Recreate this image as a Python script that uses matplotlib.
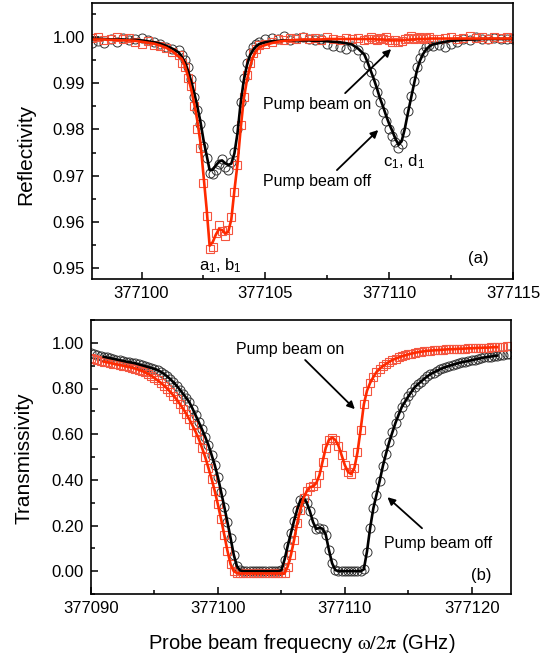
import numpy as np
import matplotlib
matplotlib.use("Agg")
import matplotlib.pyplot as plt
from matplotlib.ticker import MultipleLocator, FormatStrFormatter

plt.rcParams['font.family'] = ['Liberation Sans', 'DejaVu Sans']
plt.rcParams['mathtext.fontset'] = 'custom'
plt.rcParams['mathtext.rm'] = 'Liberation Sans'
plt.rcParams['mathtext.it'] = 'Liberation Sans'

F0 = 377000

# ---- panel (a): reflectivity, probe frequency offsets from 377000 GHz ----
freq_a = [98.0, 98.25, 98.5, 98.75, 99.0, 99.25, 99.5, 99.75, 100.0, 100.25, 100.5, 100.75, 101.0, 101.25,
          101.5, 101.625, 101.75, 101.875, 102.0, 102.125, 102.25, 102.375, 102.5, 102.625, 102.75, 102.875,
          103.0, 103.125, 103.25, 103.375, 103.5, 103.625, 103.75, 103.875, 104.0, 104.125, 104.25, 104.375,
          104.5, 104.625, 104.75,
          105.0, 105.25, 105.5, 105.75, 106.0, 106.25, 106.5, 106.75, 107.0, 107.25, 107.5, 107.75,
          108.0, 108.25, 108.5, 108.75,
          109.0, 109.125, 109.25, 109.375, 109.5, 109.625, 109.75, 109.875, 110.0, 110.125, 110.25, 110.375,
          110.5, 110.625, 110.75, 110.875, 111.0, 111.125, 111.25, 111.375, 111.5, 111.625, 111.75,
          112.0, 112.25, 112.5, 112.75, 113.0, 113.25, 113.5, 113.75, 114.0, 114.25, 114.5, 114.75, 115.0]

# pump beam off: measured (circles) and fit (black line)
refl_off_data = [0.9988, 0.9992, 0.9987, 0.9995, 0.9990, 0.9998, 0.9993, 0.9996, 0.9999, 0.9994, 0.9990, 0.9986, 0.9978, 0.9975,
                 0.9972, 0.9962, 0.9950, 0.9935, 0.9910, 0.9870, 0.9842, 0.9812, 0.9765, 0.9738, 0.9705, 0.9703,
                 0.9712, 0.9726, 0.9735, 0.9718, 0.9712, 0.9730, 0.9752, 0.9800, 0.9860, 0.9912, 0.9945, 0.9965,
                 0.9978, 0.9986, 0.9990,
                 0.9996, 0.9999, 0.9997, 1.0002, 0.9994, 0.9998, 1.0001, 0.9996, 0.9993, 0.9997, 0.9986, 0.9980,
                 0.9978, 0.9975, 0.9980, 0.9972,
                 0.9958, 0.9940, 0.9925, 0.9900, 0.9882, 0.9860, 0.9838, 0.9818, 0.9800, 0.9785, 0.9772, 0.9760,
                 0.9768, 0.9795, 0.9840, 0.9872, 0.9905, 0.9935, 0.9955, 0.9968, 0.9978, 0.9982, 0.9980,
                 0.9984, 0.9978, 0.9986, 0.9990, 0.9996, 0.9993, 1.0000, 0.9997, 0.9995, 0.9998, 0.9996, 0.9997, 0.9996]
refl_off_fit = [0.9996, 0.9996, 0.9996, 0.9995, 0.9995, 0.9995, 0.9994, 0.9994, 0.9993, 0.9991, 0.9989, 0.9986, 0.9981, 0.9975,
                0.9967, 0.9958, 0.9946, 0.9928, 0.9905, 0.9880, 0.9850, 0.9818, 0.9778, 0.9745, 0.9712, 0.9713,
                0.9722, 0.9730, 0.9733, 0.9727, 0.9723, 0.9726, 0.9748, 0.9792, 0.9856, 0.9905, 0.9938, 0.9960,
                0.9972, 0.9980, 0.9985,
                0.9989, 0.9991, 0.9992, 0.9993, 0.9993, 0.9993, 0.9993, 0.9993, 0.9992, 0.9992, 0.9991, 0.9990,
                0.9989, 0.9987, 0.9984, 0.9975,
                0.9962, 0.9946, 0.9928, 0.9910, 0.9890, 0.9868, 0.9850, 0.9830, 0.9812, 0.9797, 0.9780, 0.9767,
                0.9774, 0.9800, 0.9834, 0.9866, 0.9898, 0.9929, 0.9950, 0.9964, 0.9974, 0.9980, 0.9984,
                0.9987, 0.9990, 0.9992, 0.9993, 0.9994, 0.9995, 0.9995, 0.9996, 0.9996, 0.9996, 0.9996, 0.9996, 0.9996]

# pump beam on: measured (squares) and fit (red line)
refl_on_data = [0.9998, 1.0000, 0.9993, 0.9997, 1.0001, 0.9995, 0.9998, 0.9990, 0.9985, 0.9992, 0.9984, 0.9980, 0.9976, 0.9968,
                0.9962, 0.9945, 0.9935, 0.9912, 0.9895, 0.9850, 0.9800, 0.9760, 0.9685, 0.9612, 0.9540, 0.9545,
                0.9575, 0.9592, 0.9580, 0.9570, 0.9582, 0.9610, 0.9665, 0.9722, 0.9810, 0.9870, 0.9918, 0.9945,
                0.9965, 0.9975, 0.9982,
                0.9985, 0.9990, 0.9996, 0.9993, 0.9998, 0.9995, 1.0001, 0.9996, 0.9999, 0.9994, 1.0000, 0.9996,
                0.9993, 0.9998, 0.9995, 0.9999,
                0.9994, 0.9997, 1.0001, 0.9996, 0.9993, 0.9998, 0.9995, 1.0000, 0.9993, 0.9990, 0.9994, 0.9989,
                0.9992, 0.9996, 0.9998, 1.0002, 0.9996, 0.9999, 1.0000, 0.9995, 0.9998, 1.0001, 0.9997,
                0.9995, 0.9998, 1.0001, 0.9997, 0.9999, 1.0002, 0.9998, 1.0000, 0.9997, 1.0001, 0.9998, 1.0000, 0.9999]
refl_on_fit = [0.9995, 0.9995, 0.9995, 0.9994, 0.9994, 0.9993, 0.9993, 0.9992, 0.9990, 0.9988, 0.9986, 0.9982, 0.9977, 0.9969,
               0.9958, 0.9953, 0.9938, 0.9915, 0.9888, 0.9856, 0.9820, 0.9773, 0.9702, 0.9630, 0.9548, 0.9556,
               0.9572, 0.9584, 0.9582, 0.9575, 0.9578, 0.9605, 0.9668, 0.9725, 0.9800, 0.9865, 0.9905, 0.9935,
               0.9957, 0.9970, 0.9978,
               0.9983, 0.9987, 0.9990, 0.9992, 0.9993, 0.9994, 0.9995, 0.9995, 0.9995, 0.9995, 0.9996, 0.9996,
               0.9996, 0.9996, 0.9996, 0.9996,
               0.9996, 0.9996, 0.9996, 0.9996, 0.9995, 0.9995, 0.9995, 0.9994, 0.9994, 0.9993, 0.9993, 0.9993,
               0.9993, 0.9994, 0.9994, 0.9995, 0.9995, 0.9996, 0.9996, 0.9996, 0.9996, 0.9997, 0.9997,
               0.9997, 0.9997, 0.9997, 0.9997, 0.9997, 0.9997, 0.9997, 0.9997, 0.9997, 0.9997, 0.9997, 0.9997, 0.9997]

# ---- panel (b): transmissivity ----
freq_b = [90.0, 90.25, 90.5, 90.75, 91.0, 91.25, 91.5, 91.75, 92.0, 92.25, 92.5, 92.75,
          93.0, 93.25, 93.5, 93.75, 94.0, 94.25, 94.5, 94.75, 95.0, 95.25, 95.5, 95.75,
          96.0, 96.25, 96.5, 96.75, 97.0, 97.25, 97.5, 97.75, 98.0, 98.25, 98.5, 98.75,
          99.0, 99.25, 99.5, 99.75, 100.0, 100.25, 100.5, 100.75, 101.0, 101.25, 101.5, 101.75,
          102.0, 102.25, 102.5, 102.75, 103.0, 103.25, 103.5, 103.75, 104.0, 104.25, 104.5, 104.75,
          105.0, 105.25, 105.5, 105.75, 106.0, 106.25, 106.5, 106.75, 107.0, 107.25, 107.5, 107.75,
          108.0, 108.25, 108.5, 108.75, 109.0, 109.25, 109.5, 109.75, 110.0, 110.25, 110.5, 110.75,
          111.0, 111.25, 111.5, 111.75, 112.0, 112.25, 112.5, 112.75, 113.0, 113.25, 113.5, 113.75,
          114.0, 114.25, 114.5, 114.75, 115.0, 115.25, 115.5, 115.75, 116.0, 116.25, 116.5, 116.75,
          117.0, 117.25, 117.5, 117.75, 118.0, 118.25, 118.5, 118.75, 119.0, 119.25, 119.5, 119.75,
          120.0, 120.25, 120.5, 120.75, 121.0, 121.25, 121.5, 121.75, 122.0, 122.25, 122.5, 122.75,
          123.0]

trans_off = [0.955, 0.952, 0.948, 0.944, 0.939, 0.936, 0.933, 0.930, 0.927, 0.924, 0.921, 0.918,
             0.915, 0.913, 0.910, 0.906, 0.902, 0.898, 0.894, 0.890, 0.886, 0.881, 0.873, 0.864,
             0.853, 0.841, 0.827, 0.812, 0.795, 0.777, 0.759, 0.740, 0.712, 0.682, 0.652, 0.621,
             0.588, 0.553, 0.510, 0.465, 0.412, 0.348, 0.283, 0.215, 0.145, 0.072, 0.022, 0.003,
             0.0, 0.0, 0.0, 0.0, 0.0, 0.0, 0.0, 0.0, 0.0, 0.0, 0.0, 0.0,
             0.004, 0.050, 0.110, 0.165, 0.220, 0.270, 0.310, 0.322, 0.300, 0.262, 0.215, 0.185,
             0.190, 0.186, 0.160, 0.093, 0.035, 0.005, 0.0, 0.0, 0.0, 0.0, 0.0, 0.0,
             0.0, 0.0, 0.008, 0.086, 0.190, 0.275, 0.335, 0.395, 0.460, 0.515, 0.565, 0.608,
             0.650, 0.686, 0.720, 0.742, 0.765, 0.785, 0.805, 0.818, 0.830, 0.842, 0.853, 0.863,
             0.870, 0.877, 0.884, 0.890, 0.895, 0.900, 0.904, 0.908, 0.912, 0.915, 0.918, 0.921,
             0.924, 0.927, 0.930, 0.933, 0.936, 0.938, 0.940, 0.942, 0.944, 0.946, 0.948, 0.950,
             0.952]

trans_on = [0.935, 0.930, 0.925, 0.922, 0.918, 0.915, 0.912, 0.909, 0.906, 0.903, 0.900, 0.897,
            0.894, 0.891, 0.887, 0.882, 0.877, 0.871, 0.864, 0.856, 0.846, 0.836, 0.825, 0.813,
            0.800, 0.785, 0.769, 0.752, 0.733, 0.712, 0.690, 0.665, 0.638, 0.610, 0.578, 0.540,
            0.500, 0.453, 0.405, 0.352, 0.292, 0.228, 0.160, 0.090, 0.030, 0.000, -0.008, -0.010,
            -0.010, -0.010, -0.010, -0.010, -0.010, -0.010, -0.010, -0.010, -0.010, -0.010, -0.010, -0.010,
            -0.010, -0.010, 0.020, 0.070, 0.135, 0.210, 0.270, 0.320, 0.350, 0.368, 0.372, 0.385,
            0.420, 0.480, 0.540, 0.575, 0.585, 0.575, 0.550, 0.508, 0.465, 0.435, 0.425, 0.450,
            0.520, 0.620, 0.730, 0.790, 0.825, 0.850, 0.872, 0.886, 0.898, 0.908, 0.917, 0.925,
            0.931, 0.936, 0.941, 0.945, 0.949, 0.953, 0.956, 0.959, 0.961, 0.963, 0.965, 0.966,
            0.967, 0.968, 0.969, 0.970, 0.971, 0.972, 0.972, 0.973, 0.974, 0.974, 0.975, 0.976,
            0.976, 0.977, 0.978, 0.978, 0.979, 0.979, 0.980, 0.981, 0.981, 0.982, 0.983, 0.984,
            0.985]

RED = '#ff2a00'
SQ_RED = '#f5553f'

fig = plt.figure(figsize=(5.59, 6.60), dpi=100)
ax1 = fig.add_axes([92 / 559, 1 - 279 / 660, 421 / 559, 276 / 660])
ax2 = fig.add_axes([91 / 559, 1 - 594 / 660, 420 / 559, 274 / 660])

fa = F0 + np.array(freq_a)
fb = F0 + np.array(freq_b)

# panel (a)
ax1.plot(fa, refl_off_data, 'o', ms=6.5, mfc='none', mec='#333333', mew=0.7)
ax1.plot(fa, refl_on_data, 's', ms=5.5, mfc='none', mec=SQ_RED, mew=0.8)
ax1.plot(fa, refl_off_fit, '-', color='k', lw=1.9)
ax1.plot(fa, refl_on_fit, '-', color=RED, lw=1.9)

ax1.set_xlim(377098, 377115)
ax1.set_ylim(0.9476, 1.0074)
ax1.xaxis.set_major_locator(MultipleLocator(5))
ax1.xaxis.set_minor_locator(MultipleLocator(2.5))
ax1.yaxis.set_major_locator(MultipleLocator(0.01))
ax1.yaxis.set_minor_locator(MultipleLocator(0.005))
ax1.yaxis.set_major_formatter(FormatStrFormatter('%.2f'))
ax1.xaxis.set_major_formatter(FormatStrFormatter('%d'))
ax1.set_ylabel('Reflectivity', fontsize=15)
ax1.yaxis.set_label_coords(-0.135, 0.451)

ax1.text(F0 + 107.09, 0.98442, 'Pump beam on', fontsize=11.5, ha='center', va='baseline')
ax1.text(F0 + 107.09, 0.96775, 'Pump beam off', fontsize=11.5, ha='center', va='baseline')
ax1.annotate('', xy=(F0 + 110.16, 0.99784), xytext=(F0 + 108.14, 0.98745),
             arrowprops=dict(arrowstyle='-|>', color='k', lw=1.3, mutation_scale=11))
ax1.annotate('', xy=(F0 + 109.64, 0.9803), xytext=(F0 + 107.81, 0.97078),
             arrowprops=dict(arrowstyle='-|>', color='k', lw=1.3, mutation_scale=11))
ax1.text(F0 + 103.2, 0.94957, r'a$_1$, b$_1$', fontsize=12, ha='center', va='baseline')
ax1.text(F0 + 110.6, 0.97208, r'c$_1$, d$_1$', fontsize=12, ha='center', va='baseline')
ax1.text(F0 + 113.6, 0.95108, '(a)', fontsize=12, ha='center', va='baseline')

# panel (b)
ax2.plot(fb, trans_off, 'o', ms=6.5, mfc='none', mec='#333333', mew=0.7)
ax2.plot(fb, trans_on, 's', ms=5.5, mfc='none', mec=SQ_RED, mew=0.8)
ax2.plot(fb[4:129], trans_off[4:129], '-', color='k', lw=1.9)
ax2.plot(fb[4:129], trans_on[4:129], '-', color=RED, lw=1.9)

ax2.set_xlim(377090, 377123.1)
ax2.set_ylim(-0.1, 1.1)
ax2.xaxis.set_major_locator(MultipleLocator(10))
ax2.xaxis.set_minor_locator(MultipleLocator(5))
ax2.yaxis.set_major_locator(MultipleLocator(0.2))
ax2.yaxis.set_minor_locator(MultipleLocator(0.1))
ax2.yaxis.set_major_formatter(FormatStrFormatter('%.2f'))
ax2.xaxis.set_major_formatter(FormatStrFormatter('%d'))
ax2.set_ylabel('Transmissivity', fontsize=15)
ax2.yaxis.set_label_coords(-0.136, 0.495)
ax2.set_xlabel(r'Probe beam frequecny $\mathrm{\omega/2\pi}$ (GHz)', fontsize=14.5)
ax2.xaxis.label.set_math_fontfamily('stix')
ax2.xaxis.set_label_coords(0.502, -0.14)

ax2.text(F0 + 105.71, 0.952, 'Pump beam on', fontsize=11.5, ha='center', va='baseline')
ax2.text(F0 + 117.38, 0.10, 'Pump beam off', fontsize=11.5, ha='center', va='baseline')
ax2.annotate('', xy=(F0 + 110.95, 0.701), xytext=(F0 + 106.72, 0.9335),
             arrowprops=dict(arrowstyle='-|>', color='k', lw=1.3, mutation_scale=11))
ax2.annotate('', xy=(F0 + 113.2, 0.332), xytext=(F0 + 116.25, 0.18),
             arrowprops=dict(arrowstyle='-|>', color='k', lw=1.3, mutation_scale=11))
ax2.text(F0 + 120.75, -0.038, '(b)', fontsize=12, ha='center', va='baseline')

for ax in (ax1, ax2):
    ax.tick_params(which='both', direction='in', top=False, right=False, labelsize=12, pad=5)
    ax.tick_params(which='major', length=5, width=1.1)
    ax.tick_params(which='minor', length=3, width=1.1)
    for s in ax.spines.values():
        s.set_linewidth(1.2)

fig.savefig('out.png', dpi=100)
